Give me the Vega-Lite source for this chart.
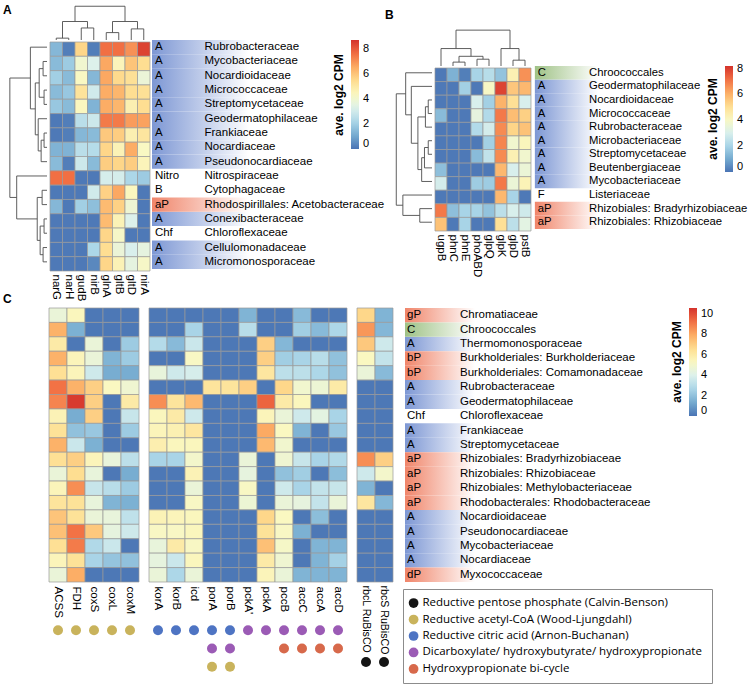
{
"$schema": "https://vega.github.io/schema/vega-lite/v6.json",
"background": "white",
"padding": {"left": 3, "top": 3, "right": 0, "bottom": 0},
"config": {
  "view": {"stroke": null},
  "font": "Liberation Sans",
  "title": {"anchor": "start", "fontSize": 12, "fontWeight": "bold", "color": "black", "offset": 2, "font": "Liberation Sans"},
  "axis": {"labelFont": "Liberation Sans", "labelColor": "black"},
  "text": {"font": "Liberation Sans", "color": "black"}
},
"datasets": {
  "hA": [
    {"g":"narG","f":"Rubrobacteraceae","v":1.4},{"g":"narH","f":"Rubrobacteraceae","v":0.2},{"g":"gudB","f":"Rubrobacteraceae","v":5.6},{"g":"nirB","f":"Rubrobacteraceae","v":0.2},{"g":"glnA","f":"Rubrobacteraceae","v":7.6},{"g":"gltB","f":"Rubrobacteraceae","v":7.6},{"g":"gltD","f":"Rubrobacteraceae","v":7.0},{"g":"nirA","f":"Rubrobacteraceae","v":8.4},
    {"g":"narG","f":"Mycobacteriaceae","v":1.5},{"g":"narH","f":"Mycobacteriaceae","v":1.9},{"g":"gudB","f":"Mycobacteriaceae","v":4.0},{"g":"nirB","f":"Mycobacteriaceae","v":3.3},{"g":"glnA","f":"Mycobacteriaceae","v":6.6},{"g":"gltB","f":"Mycobacteriaceae","v":4.5},{"g":"gltD","f":"Mycobacteriaceae","v":6.0},{"g":"nirA","f":"Mycobacteriaceae","v":5.4},
    {"g":"narG","f":"Nocardioidaceae","v":2.0},{"g":"narH","f":"Nocardioidaceae","v":1.5},{"g":"gudB","f":"Nocardioidaceae","v":4.3},{"g":"nirB","f":"Nocardioidaceae","v":1.4},{"g":"glnA","f":"Nocardioidaceae","v":6.6},{"g":"gltB","f":"Nocardioidaceae","v":5.5},{"g":"gltD","f":"Nocardioidaceae","v":5.3},{"g":"nirA","f":"Nocardioidaceae","v":3.8},
    {"g":"narG","f":"Micrococcaceae","v":1.5},{"g":"narH","f":"Micrococcaceae","v":1.8},{"g":"gudB","f":"Micrococcaceae","v":5.2},{"g":"nirB","f":"Micrococcaceae","v":3.0},{"g":"glnA","f":"Micrococcaceae","v":6.5},{"g":"gltB","f":"Micrococcaceae","v":6.3},{"g":"gltD","f":"Micrococcaceae","v":5.4},{"g":"nirA","f":"Micrococcaceae","v":5.3},
    {"g":"narG","f":"Streptomycetaceae","v":1.8},{"g":"narH","f":"Streptomycetaceae","v":1.5},{"g":"gudB","f":"Streptomycetaceae","v":4.4},{"g":"nirB","f":"Streptomycetaceae","v":1.3},{"g":"glnA","f":"Streptomycetaceae","v":6.5},{"g":"gltB","f":"Streptomycetaceae","v":6.3},{"g":"gltD","f":"Streptomycetaceae","v":4.7},{"g":"nirA","f":"Streptomycetaceae","v":5.4},
    {"g":"narG","f":"Geodermatophilaceae","v":0.1},{"g":"narH","f":"Geodermatophilaceae","v":0.2},{"g":"gudB","f":"Geodermatophilaceae","v":2.5},{"g":"nirB","f":"Geodermatophilaceae","v":2.9},{"g":"glnA","f":"Geodermatophilaceae","v":7.4},{"g":"gltB","f":"Geodermatophilaceae","v":7.4},{"g":"gltD","f":"Geodermatophilaceae","v":6.8},{"g":"nirA","f":"Geodermatophilaceae","v":6.7},
    {"g":"narG","f":"Frankiaceae","v":0.1},{"g":"narH","f":"Frankiaceae","v":0.2},{"g":"gudB","f":"Frankiaceae","v":1.4},{"g":"nirB","f":"Frankiaceae","v":1.5},{"g":"glnA","f":"Frankiaceae","v":5.9},{"g":"gltB","f":"Frankiaceae","v":5.8},{"g":"gltD","f":"Frankiaceae","v":4.7},{"g":"nirA","f":"Frankiaceae","v":5.1},
    {"g":"narG","f":"Nocardiaceae","v":1.3},{"g":"narH","f":"Nocardiaceae","v":1.3},{"g":"gudB","f":"Nocardiaceae","v":2.5},{"g":"nirB","f":"Nocardiaceae","v":2.4},{"g":"glnA","f":"Nocardiaceae","v":5.6},{"g":"gltB","f":"Nocardiaceae","v":4.6},{"g":"gltD","f":"Nocardiaceae","v":6.5},{"g":"nirA","f":"Nocardiaceae","v":4.3},
    {"g":"narG","f":"Pseudonocardiaceae","v":1.5},{"g":"narH","f":"Pseudonocardiaceae","v":0.2},{"g":"gudB","f":"Pseudonocardiaceae","v":2.9},{"g":"nirB","f":"Pseudonocardiaceae","v":1.5},{"g":"glnA","f":"Pseudonocardiaceae","v":5.8},{"g":"gltB","f":"Pseudonocardiaceae","v":5.6},{"g":"gltD","f":"Pseudonocardiaceae","v":5.8},{"g":"nirA","f":"Pseudonocardiaceae","v":4.5},
    {"g":"narG","f":"Nitrospiraceae","v":7.6},{"g":"narH","f":"Nitrospiraceae","v":7.6},{"g":"gudB","f":"Nitrospiraceae","v":0.1},{"g":"nirB","f":"Nitrospiraceae","v":0.1},{"g":"glnA","f":"Nitrospiraceae","v":3.1},{"g":"gltB","f":"Nitrospiraceae","v":3.1},{"g":"gltD","f":"Nitrospiraceae","v":2.2},{"g":"nirA","f":"Nitrospiraceae","v":1.9},
    {"g":"narG","f":"Cytophagaceae","v":0.1},{"g":"narH","f":"Cytophagaceae","v":0.1},{"g":"gudB","f":"Cytophagaceae","v":0.1},{"g":"nirB","f":"Cytophagaceae","v":3.0},{"g":"glnA","f":"Cytophagaceae","v":5.7},{"g":"gltB","f":"Cytophagaceae","v":6.6},{"g":"gltD","f":"Cytophagaceae","v":4.4},{"g":"nirA","f":"Cytophagaceae","v":0.1},
    {"g":"narG","f":"Rhodospirillales: Acetobacteraceae","v":1.4},{"g":"narH","f":"Rhodospirillales: Acetobacteraceae","v":0.1},{"g":"gudB","f":"Rhodospirillales: Acetobacteraceae","v":2.0},{"g":"nirB","f":"Rhodospirillales: Acetobacteraceae","v":1.6},{"g":"glnA","f":"Rhodospirillales: Acetobacteraceae","v":6.2},{"g":"gltB","f":"Rhodospirillales: Acetobacteraceae","v":5.7},{"g":"gltD","f":"Rhodospirillales: Acetobacteraceae","v":3.9},{"g":"nirA","f":"Rhodospirillales: Acetobacteraceae","v":0.1},
    {"g":"narG","f":"Conexibacteraceae","v":0.1},{"g":"narH","f":"Conexibacteraceae","v":0.1},{"g":"gudB","f":"Conexibacteraceae","v":0.1},{"g":"nirB","f":"Conexibacteraceae","v":0.1},{"g":"glnA","f":"Conexibacteraceae","v":6.2},{"g":"gltB","f":"Conexibacteraceae","v":4.6},{"g":"gltD","f":"Conexibacteraceae","v":3.3},{"g":"nirA","f":"Conexibacteraceae","v":0.1},
    {"g":"narG","f":"Chloroflexaceae","v":0.1},{"g":"narH","f":"Chloroflexaceae","v":0.1},{"g":"gudB","f":"Chloroflexaceae","v":0.1},{"g":"nirB","f":"Chloroflexaceae","v":0.1},{"g":"glnA","f":"Chloroflexaceae","v":5.6},{"g":"gltB","f":"Chloroflexaceae","v":4.2},{"g":"gltD","f":"Chloroflexaceae","v":0.1},{"g":"nirA","f":"Chloroflexaceae","v":0.1},
    {"g":"narG","f":"Cellulomonadaceae","v":0.1},{"g":"narH","f":"Cellulomonadaceae","v":0.1},{"g":"gudB","f":"Cellulomonadaceae","v":0.1},{"g":"nirB","f":"Cellulomonadaceae","v":2.2},{"g":"glnA","f":"Cellulomonadaceae","v":5.4},{"g":"gltB","f":"Cellulomonadaceae","v":3.8},{"g":"gltD","f":"Cellulomonadaceae","v":3.2},{"g":"nirA","f":"Cellulomonadaceae","v":3.6},
    {"g":"narG","f":"Micromonosporaceae","v":0.1},{"g":"narH","f":"Micromonosporaceae","v":0.1},{"g":"gudB","f":"Micromonosporaceae","v":0.1},{"g":"nirB","f":"Micromonosporaceae","v":0.4},{"g":"glnA","f":"Micromonosporaceae","v":5.6},{"g":"gltB","f":"Micromonosporaceae","v":4.6},{"g":"gltD","f":"Micromonosporaceae","v":3.6},{"g":"nirA","f":"Micromonosporaceae","v":4.2}
  ],
  "aA": [
    {"f":"Rubrobacteraceae","grp":"A"},{"f":"Mycobacteriaceae","grp":"A"},{"f":"Nocardioidaceae","grp":"A"},{"f":"Micrococcaceae","grp":"A"},{"f":"Streptomycetaceae","grp":"A"},{"f":"Geodermatophilaceae","grp":"A"},{"f":"Frankiaceae","grp":"A"},{"f":"Nocardiaceae","grp":"A"},{"f":"Pseudonocardiaceae","grp":"A"},{"f":"Nitrospiraceae","grp":"Nitro"},{"f":"Cytophagaceae","grp":"B"},{"f":"Rhodospirillales: Acetobacteraceae","grp":"aP"},{"f":"Conexibacteraceae","grp":"A"},{"f":"Chloroflexaceae","grp":"Chf"},{"f":"Cellulomonadaceae","grp":"A"},{"f":"Micromonosporaceae","grp":"A"}
  ],
  "hB": [
    {"g":"ugpB","f":"Chroococcales","v":0.1},{"g":"phnC","f":"Chroococcales","v":1.2},{"g":"phnE","f":"Chroococcales","v":0.2},{"g":"phoABD","f":"Chroococcales","v":2.0},{"g":"glpQ","f":"Chroococcales","v":2.3},{"g":"glpK","f":"Chroococcales","v":1.6},{"g":"glpD","f":"Chroococcales","v":4.4},{"g":"pstB","f":"Chroococcales","v":6.6},
    {"g":"ugpB","f":"Geodermatophilaceae","v":0.1},{"g":"phnC","f":"Geodermatophilaceae","v":0.1},{"g":"phnE","f":"Geodermatophilaceae","v":1.9},{"g":"phoABD","f":"Geodermatophilaceae","v":0.1},{"g":"glpQ","f":"Geodermatophilaceae","v":4.0},{"g":"glpK","f":"Geodermatophilaceae","v":7.9},{"g":"glpD","f":"Geodermatophilaceae","v":5.6},{"g":"pstB","f":"Geodermatophilaceae","v":5.9},
    {"g":"ugpB","f":"Nocardioidaceae","v":0.1},{"g":"phnC","f":"Nocardioidaceae","v":0.1},{"g":"phnE","f":"Nocardioidaceae","v":0.1},{"g":"phoABD","f":"Nocardioidaceae","v":3.0},{"g":"glpQ","f":"Nocardioidaceae","v":1.9},{"g":"glpK","f":"Nocardioidaceae","v":6.0},{"g":"glpD","f":"Nocardioidaceae","v":5.0},{"g":"pstB","f":"Nocardioidaceae","v":3.0},
    {"g":"ugpB","f":"Micrococcaceae","v":1.4},{"g":"phnC","f":"Micrococcaceae","v":0.1},{"g":"phnE","f":"Micrococcaceae","v":0.1},{"g":"phoABD","f":"Micrococcaceae","v":3.4},{"g":"glpQ","f":"Micrococcaceae","v":2.2},{"g":"glpK","f":"Micrococcaceae","v":7.0},{"g":"glpD","f":"Micrococcaceae","v":5.8},{"g":"pstB","f":"Micrococcaceae","v":5.4},
    {"g":"ugpB","f":"Rubrobacteraceae","v":0.1},{"g":"phnC","f":"Rubrobacteraceae","v":0.1},{"g":"phnE","f":"Rubrobacteraceae","v":0.1},{"g":"phoABD","f":"Rubrobacteraceae","v":2.2},{"g":"glpQ","f":"Rubrobacteraceae","v":2.9},{"g":"glpK","f":"Rubrobacteraceae","v":6.7},{"g":"glpD","f":"Rubrobacteraceae","v":5.3},{"g":"pstB","f":"Rubrobacteraceae","v":5.7},
    {"g":"ugpB","f":"Microbacteriaceae","v":0.1},{"g":"phnC","f":"Microbacteriaceae","v":0.1},{"g":"phnE","f":"Microbacteriaceae","v":0.1},{"g":"phoABD","f":"Microbacteriaceae","v":0.1},{"g":"glpQ","f":"Microbacteriaceae","v":1.9},{"g":"glpK","f":"Microbacteriaceae","v":6.8},{"g":"glpD","f":"Microbacteriaceae","v":3.8},{"g":"pstB","f":"Microbacteriaceae","v":4.2},
    {"g":"ugpB","f":"Streptomycetaceae","v":0.1},{"g":"phnC","f":"Streptomycetaceae","v":0.1},{"g":"phnE","f":"Streptomycetaceae","v":0.1},{"g":"phoABD","f":"Streptomycetaceae","v":1.4},{"g":"glpQ","f":"Streptomycetaceae","v":2.5},{"g":"glpK","f":"Streptomycetaceae","v":6.7},{"g":"glpD","f":"Streptomycetaceae","v":4.4},{"g":"pstB","f":"Streptomycetaceae","v":3.8},
    {"g":"ugpB","f":"Beutenbergiaceae","v":1.5},{"g":"phnC","f":"Beutenbergiaceae","v":0.1},{"g":"phnE","f":"Beutenbergiaceae","v":0.1},{"g":"phoABD","f":"Beutenbergiaceae","v":0.1},{"g":"glpQ","f":"Beutenbergiaceae","v":0.1},{"g":"glpK","f":"Beutenbergiaceae","v":5.9},{"g":"glpD","f":"Beutenbergiaceae","v":3.0},{"g":"pstB","f":"Beutenbergiaceae","v":3.6},
    {"g":"ugpB","f":"Mycobacteriaceae","v":2.9},{"g":"phnC","f":"Mycobacteriaceae","v":0.1},{"g":"phnE","f":"Mycobacteriaceae","v":0.1},{"g":"phoABD","f":"Mycobacteriaceae","v":1.8},{"g":"glpQ","f":"Mycobacteriaceae","v":1.8},{"g":"glpK","f":"Mycobacteriaceae","v":7.0},{"g":"glpD","f":"Mycobacteriaceae","v":3.6},{"g":"pstB","f":"Mycobacteriaceae","v":4.3},
    {"g":"ugpB","f":"Listeriaceae","v":0.1},{"g":"phnC","f":"Listeriaceae","v":0.1},{"g":"phnE","f":"Listeriaceae","v":0.1},{"g":"phoABD","f":"Listeriaceae","v":0.1},{"g":"glpQ","f":"Listeriaceae","v":0.1},{"g":"glpK","f":"Listeriaceae","v":5.9},{"g":"glpD","f":"Listeriaceae","v":2.0},{"g":"pstB","f":"Listeriaceae","v":0.1},
    {"g":"ugpB","f":"Rhizobiales: Bradyrhizobiaceae","v":7.0},{"g":"phnC","f":"Rhizobiales: Bradyrhizobiaceae","v":1.5},{"g":"phnE","f":"Rhizobiales: Bradyrhizobiaceae","v":2.0},{"g":"phoABD","f":"Rhizobiales: Bradyrhizobiaceae","v":2.0},{"g":"glpQ","f":"Rhizobiales: Bradyrhizobiaceae","v":1.6},{"g":"glpK","f":"Rhizobiales: Bradyrhizobiaceae","v":2.4},{"g":"glpD","f":"Rhizobiales: Bradyrhizobiaceae","v":3.0},{"g":"pstB","f":"Rhizobiales: Bradyrhizobiaceae","v":2.8},
    {"g":"ugpB","f":"Rhizobiales: Rhizobiaceae","v":5.7},{"g":"phnC","f":"Rhizobiales: Rhizobiaceae","v":0.1},{"g":"phnE","f":"Rhizobiales: Rhizobiaceae","v":2.0},{"g":"phoABD","f":"Rhizobiales: Rhizobiaceae","v":0.1},{"g":"glpQ","f":"Rhizobiales: Rhizobiaceae","v":0.1},{"g":"glpK","f":"Rhizobiales: Rhizobiaceae","v":5.0},{"g":"glpD","f":"Rhizobiales: Rhizobiaceae","v":2.4},{"g":"pstB","f":"Rhizobiales: Rhizobiaceae","v":3.3}
  ],
  "aB": [
    {"f":"Chroococcales","grp":"C"},{"f":"Geodermatophilaceae","grp":"A"},{"f":"Nocardioidaceae","grp":"A"},{"f":"Micrococcaceae","grp":"A"},{"f":"Rubrobacteraceae","grp":"A"},{"f":"Microbacteriaceae","grp":"A"},{"f":"Streptomycetaceae","grp":"A"},{"f":"Beutenbergiaceae","grp":"A"},{"f":"Mycobacteriaceae","grp":"A"},{"f":"Listeriaceae","grp":"F"},{"f":"Rhizobiales: Bradyrhizobiaceae","grp":"aP"},{"f":"Rhizobiales: Rhizobiaceae","grp":"aP"}
  ],
  "hC1": [
    {"g":"ACSS","f":"Chromatiaceae","v":4.6},{"g":"FDH","f":"Chromatiaceae","v":5.4},{"g":"coxS","f":"Chromatiaceae","v":0.1},{"g":"coxL","f":"Chromatiaceae","v":0.1},{"g":"coxM","f":"Chromatiaceae","v":0.1},
    {"g":"ACSS","f":"Chroococcales","v":7.8},{"g":"FDH","f":"Chroococcales","v":1.5},{"g":"coxS","f":"Chroococcales","v":0.1},{"g":"coxL","f":"Chroococcales","v":0.1},{"g":"coxM","f":"Chroococcales","v":0.1},
    {"g":"ACSS","f":"Thermomonosporaceae","v":6.0},{"g":"FDH","f":"Thermomonosporaceae","v":0.1},{"g":"coxS","f":"Thermomonosporaceae","v":4.6},{"g":"coxL","f":"Thermomonosporaceae","v":0.1},{"g":"coxM","f":"Thermomonosporaceae","v":2.3},
    {"g":"ACSS","f":"Burkholderiales: Burkholderiaceae","v":7.8},{"g":"FDH","f":"Burkholderiales: Burkholderiaceae","v":5.5},{"g":"coxS","f":"Burkholderiales: Burkholderiaceae","v":4.6},{"g":"coxL","f":"Burkholderiales: Burkholderiaceae","v":1.6},{"g":"coxM","f":"Burkholderiales: Burkholderiaceae","v":2.3},
    {"g":"ACSS","f":"Burkholderiales: Comamonadaceae","v":6.5},{"g":"FDH","f":"Burkholderiales: Comamonadaceae","v":5.5},{"g":"coxS","f":"Burkholderiales: Comamonadaceae","v":3.6},{"g":"coxL","f":"Burkholderiales: Comamonadaceae","v":1.4},{"g":"coxM","f":"Burkholderiales: Comamonadaceae","v":1.4},
    {"g":"ACSS","f":"Rubrobacteraceae","v":9.2},{"g":"FDH","f":"Rubrobacteraceae","v":7.8},{"g":"coxS","f":"Rubrobacteraceae","v":7.0},{"g":"coxL","f":"Rubrobacteraceae","v":5.3},{"g":"coxM","f":"Rubrobacteraceae","v":4.8},
    {"g":"ACSS","f":"Geodermatophilaceae","v":8.8},{"g":"FDH","f":"Geodermatophilaceae","v":10.4},{"g":"coxS","f":"Geodermatophilaceae","v":7.0},{"g":"coxL","f":"Geodermatophilaceae","v":0.1},{"g":"coxM","f":"Geodermatophilaceae","v":6.0},
    {"g":"ACSS","f":"Chloroflexaceae","v":5.6},{"g":"FDH","f":"Chloroflexaceae","v":1.4},{"g":"coxS","f":"Chloroflexaceae","v":7.0},{"g":"coxL","f":"Chloroflexaceae","v":0.1},{"g":"coxM","f":"Chloroflexaceae","v":3.4},
    {"g":"ACSS","f":"Frankiaceae","v":6.4},{"g":"FDH","f":"Frankiaceae","v":2.0},{"g":"coxS","f":"Frankiaceae","v":2.2},{"g":"coxL","f":"Frankiaceae","v":0.1},{"g":"coxM","f":"Frankiaceae","v":2.3},
    {"g":"ACSS","f":"Streptomycetaceae","v":7.8},{"g":"FDH","f":"Streptomycetaceae","v":3.5},{"g":"coxS","f":"Streptomycetaceae","v":1.5},{"g":"coxL","f":"Streptomycetaceae","v":0.1},{"g":"coxM","f":"Streptomycetaceae","v":0.1},
    {"g":"ACSS","f":"Rhizobiales: Bradyrhizobiaceae","v":6.5},{"g":"FDH","f":"Rhizobiales: Bradyrhizobiaceae","v":7.0},{"g":"coxS","f":"Rhizobiales: Bradyrhizobiaceae","v":5.5},{"g":"coxL","f":"Rhizobiales: Bradyrhizobiaceae","v":4.5},{"g":"coxM","f":"Rhizobiales: Bradyrhizobiaceae","v":3.1},
    {"g":"ACSS","f":"Rhizobiales: Rhizobiaceae","v":4.6},{"g":"FDH","f":"Rhizobiales: Rhizobiaceae","v":6.6},{"g":"coxS","f":"Rhizobiales: Rhizobiaceae","v":4.5},{"g":"coxL","f":"Rhizobiales: Rhizobiaceae","v":0.1},{"g":"coxM","f":"Rhizobiales: Rhizobiaceae","v":1.4},
    {"g":"ACSS","f":"Rhizobiales: Methylobacteriaceae","v":5.5},{"g":"FDH","f":"Rhizobiales: Methylobacteriaceae","v":8.6},{"g":"coxS","f":"Rhizobiales: Methylobacteriaceae","v":3.4},{"g":"coxL","f":"Rhizobiales: Methylobacteriaceae","v":3.0},{"g":"coxM","f":"Rhizobiales: Methylobacteriaceae","v":2.3},
    {"g":"ACSS","f":"Rhodobacterales: Rhodobacteraceae","v":6.3},{"g":"FDH","f":"Rhodobacterales: Rhodobacteraceae","v":6.4},{"g":"coxS","f":"Rhodobacterales: Rhodobacteraceae","v":4.5},{"g":"coxL","f":"Rhodobacterales: Rhodobacteraceae","v":1.6},{"g":"coxM","f":"Rhodobacterales: Rhodobacteraceae","v":1.5},
    {"g":"ACSS","f":"Nocardioidaceae","v":7.3},{"g":"FDH","f":"Nocardioidaceae","v":6.4},{"g":"coxS","f":"Nocardioidaceae","v":4.6},{"g":"coxL","f":"Nocardioidaceae","v":4.5},{"g":"coxM","f":"Nocardioidaceae","v":3.2},
    {"g":"ACSS","f":"Pseudonocardiaceae","v":7.4},{"g":"FDH","f":"Pseudonocardiaceae","v":9.2},{"g":"coxS","f":"Pseudonocardiaceae","v":7.2},{"g":"coxL","f":"Pseudonocardiaceae","v":4.4},{"g":"coxM","f":"Pseudonocardiaceae","v":3.6},
    {"g":"ACSS","f":"Mycobacteriaceae","v":6.5},{"g":"FDH","f":"Mycobacteriaceae","v":9.0},{"g":"coxS","f":"Mycobacteriaceae","v":2.8},{"g":"coxL","f":"Mycobacteriaceae","v":3.5},{"g":"coxM","f":"Mycobacteriaceae","v":0.1},
    {"g":"ACSS","f":"Nocardiaceae","v":5.5},{"g":"FDH","f":"Nocardiaceae","v":6.4},{"g":"coxS","f":"Nocardiaceae","v":2.6},{"g":"coxL","f":"Nocardiaceae","v":2.1},{"g":"coxM","f":"Nocardiaceae","v":2.0},
    {"g":"ACSS","f":"Myxococcaceae","v":4.6},{"g":"FDH","f":"Myxococcaceae","v":7.9},{"g":"coxS","f":"Myxococcaceae","v":0.1},{"g":"coxL","f":"Myxococcaceae","v":0.1},{"g":"coxM","f":"Myxococcaceae","v":0.1}
  ],
  "hC2": [
    {"g":"korA","f":"Chromatiaceae","v":0.1},{"g":"korB","f":"Chromatiaceae","v":0.1},{"g":"icd","f":"Chromatiaceae","v":0.1},{"g":"porA","f":"Chromatiaceae","v":0.1},{"g":"porB","f":"Chromatiaceae","v":0.1},{"g":"pckA'","f":"Chromatiaceae","v":1.6},{"g":"pckA","f":"Chromatiaceae","v":0.1},{"g":"pccB","f":"Chromatiaceae","v":0.1},{"g":"accC","f":"Chromatiaceae","v":1.8},{"g":"accA","f":"Chromatiaceae","v":0.1},{"g":"accD","f":"Chromatiaceae","v":0.1},
    {"g":"korA","f":"Chroococcales","v":0.1},{"g":"korB","f":"Chroococcales","v":0.1},{"g":"icd","f":"Chroococcales","v":2.6},{"g":"porA","f":"Chroococcales","v":0.1},{"g":"porB","f":"Chroococcales","v":0.1},{"g":"pckA'","f":"Chroococcales","v":3.0},{"g":"pckA","f":"Chroococcales","v":0.1},{"g":"pccB","f":"Chroococcales","v":0.1},{"g":"accC","f":"Chroococcales","v":2.4},{"g":"accA","f":"Chroococcales","v":1.8},{"g":"accD","f":"Chroococcales","v":2.7},
    {"g":"korA","f":"Thermomonosporaceae","v":2.9},{"g":"korB","f":"Thermomonosporaceae","v":1.8},{"g":"icd","f":"Thermomonosporaceae","v":3.5},{"g":"porA","f":"Thermomonosporaceae","v":0.1},{"g":"porB","f":"Thermomonosporaceae","v":0.1},{"g":"pckA'","f":"Thermomonosporaceae","v":0.1},{"g":"pckA","f":"Thermomonosporaceae","v":7.0},{"g":"pccB","f":"Thermomonosporaceae","v":1.7},{"g":"accC","f":"Thermomonosporaceae","v":0.1},{"g":"accA","f":"Thermomonosporaceae","v":0.1},{"g":"accD","f":"Thermomonosporaceae","v":0.1},
    {"g":"korA","f":"Burkholderiales: Burkholderiaceae","v":0.1},{"g":"korB","f":"Burkholderiales: Burkholderiaceae","v":0.1},{"g":"icd","f":"Burkholderiales: Burkholderiaceae","v":5.2},{"g":"porA","f":"Burkholderiales: Burkholderiaceae","v":0.1},{"g":"porB","f":"Burkholderiales: Burkholderiaceae","v":0.1},{"g":"pckA'","f":"Burkholderiales: Burkholderiaceae","v":0.1},{"g":"pckA","f":"Burkholderiales: Burkholderiaceae","v":7.0},{"g":"pccB","f":"Burkholderiales: Burkholderiaceae","v":2.4},{"g":"accC","f":"Burkholderiales: Burkholderiaceae","v":2.6},{"g":"accA","f":"Burkholderiales: Burkholderiaceae","v":3.0},{"g":"accD","f":"Burkholderiales: Burkholderiaceae","v":2.0},
    {"g":"korA","f":"Burkholderiales: Comamonadaceae","v":4.5},{"g":"korB","f":"Burkholderiales: Comamonadaceae","v":3.6},{"g":"icd","f":"Burkholderiales: Comamonadaceae","v":3.8},{"g":"porA","f":"Burkholderiales: Comamonadaceae","v":0.1},{"g":"porB","f":"Burkholderiales: Comamonadaceae","v":0.1},{"g":"pckA'","f":"Burkholderiales: Comamonadaceae","v":0.1},{"g":"pckA","f":"Burkholderiales: Comamonadaceae","v":6.2},{"g":"pccB","f":"Burkholderiales: Comamonadaceae","v":3.1},{"g":"accC","f":"Burkholderiales: Comamonadaceae","v":3.1},{"g":"accA","f":"Burkholderiales: Comamonadaceae","v":2.7},{"g":"accD","f":"Burkholderiales: Comamonadaceae","v":2.0},
    {"g":"korA","f":"Rubrobacteraceae","v":0.1},{"g":"korB","f":"Rubrobacteraceae","v":0.1},{"g":"icd","f":"Rubrobacteraceae","v":0.1},{"g":"porA","f":"Rubrobacteraceae","v":6.3},{"g":"porB","f":"Rubrobacteraceae","v":6.3},{"g":"pckA'","f":"Rubrobacteraceae","v":7.0},{"g":"pckA","f":"Rubrobacteraceae","v":0.1},{"g":"pccB","f":"Rubrobacteraceae","v":6.8},{"g":"accC","f":"Rubrobacteraceae","v":4.9},{"g":"accA","f":"Rubrobacteraceae","v":4.7},{"g":"accD","f":"Rubrobacteraceae","v":6.0},
    {"g":"korA","f":"Geodermatophilaceae","v":8.6},{"g":"korB","f":"Geodermatophilaceae","v":6.3},{"g":"icd","f":"Geodermatophilaceae","v":7.6},{"g":"porA","f":"Geodermatophilaceae","v":0.1},{"g":"porB","f":"Geodermatophilaceae","v":0.1},{"g":"pckA'","f":"Geodermatophilaceae","v":0.1},{"g":"pckA","f":"Geodermatophilaceae","v":9.5},{"g":"pccB","f":"Geodermatophilaceae","v":6.0},{"g":"accC","f":"Geodermatophilaceae","v":5.4},{"g":"accA","f":"Geodermatophilaceae","v":0.1},{"g":"accD","f":"Geodermatophilaceae","v":0.1},
    {"g":"korA","f":"Chloroflexaceae","v":5.4},{"g":"korB","f":"Chloroflexaceae","v":6.0},{"g":"icd","f":"Chloroflexaceae","v":3.6},{"g":"porA","f":"Chloroflexaceae","v":0.1},{"g":"porB","f":"Chloroflexaceae","v":0.1},{"g":"pckA'","f":"Chloroflexaceae","v":0.1},{"g":"pckA","f":"Chloroflexaceae","v":5.5},{"g":"pccB","f":"Chloroflexaceae","v":4.6},{"g":"accC","f":"Chloroflexaceae","v":3.6},{"g":"accA","f":"Chloroflexaceae","v":4.3},{"g":"accD","f":"Chloroflexaceae","v":2.6},
    {"g":"korA","f":"Frankiaceae","v":5.5},{"g":"korB","f":"Frankiaceae","v":5.7},{"g":"icd","f":"Frankiaceae","v":6.2},{"g":"porA","f":"Frankiaceae","v":0.1},{"g":"porB","f":"Frankiaceae","v":0.1},{"g":"pckA'","f":"Frankiaceae","v":0.1},{"g":"pckA","f":"Frankiaceae","v":8.0},{"g":"pccB","f":"Frankiaceae","v":5.3},{"g":"accC","f":"Frankiaceae","v":1.6},{"g":"accA","f":"Frankiaceae","v":0.1},{"g":"accD","f":"Frankiaceae","v":2.2},
    {"g":"korA","f":"Streptomycetaceae","v":5.8},{"g":"korB","f":"Streptomycetaceae","v":5.4},{"g":"icd","f":"Streptomycetaceae","v":5.4},{"g":"porA","f":"Streptomycetaceae","v":0.1},{"g":"porB","f":"Streptomycetaceae","v":0.1},{"g":"pckA'","f":"Streptomycetaceae","v":0.1},{"g":"pckA","f":"Streptomycetaceae","v":7.6},{"g":"pccB","f":"Streptomycetaceae","v":4.9},{"g":"accC","f":"Streptomycetaceae","v":0.1},{"g":"accA","f":"Streptomycetaceae","v":0.1},{"g":"accD","f":"Streptomycetaceae","v":0.1},
    {"g":"korA","f":"Rhizobiales: Bradyrhizobiaceae","v":2.6},{"g":"korB","f":"Rhizobiales: Bradyrhizobiaceae","v":2.6},{"g":"icd","f":"Rhizobiales: Bradyrhizobiaceae","v":5.0},{"g":"porA","f":"Rhizobiales: Bradyrhizobiaceae","v":0.1},{"g":"porB","f":"Rhizobiales: Bradyrhizobiaceae","v":0.1},{"g":"pckA'","f":"Rhizobiales: Bradyrhizobiaceae","v":4.6},{"g":"pckA","f":"Rhizobiales: Bradyrhizobiaceae","v":0.1},{"g":"pccB","f":"Rhizobiales: Bradyrhizobiaceae","v":4.8},{"g":"accC","f":"Rhizobiales: Bradyrhizobiaceae","v":3.4},{"g":"accA","f":"Rhizobiales: Bradyrhizobiaceae","v":2.6},{"g":"accD","f":"Rhizobiales: Bradyrhizobiaceae","v":2.8},
    {"g":"korA","f":"Rhizobiales: Rhizobiaceae","v":0.1},{"g":"korB","f":"Rhizobiales: Rhizobiaceae","v":0.1},{"g":"icd","f":"Rhizobiales: Rhizobiaceae","v":5.6},{"g":"porA","f":"Rhizobiales: Rhizobiaceae","v":0.1},{"g":"porB","f":"Rhizobiales: Rhizobiaceae","v":0.1},{"g":"pckA'","f":"Rhizobiales: Rhizobiaceae","v":4.4},{"g":"pckA","f":"Rhizobiales: Rhizobiaceae","v":0.1},{"g":"pccB","f":"Rhizobiales: Rhizobiaceae","v":2.0},{"g":"accC","f":"Rhizobiales: Rhizobiaceae","v":2.4},{"g":"accA","f":"Rhizobiales: Rhizobiaceae","v":0.1},{"g":"accD","f":"Rhizobiales: Rhizobiaceae","v":1.9},
    {"g":"korA","f":"Rhizobiales: Methylobacteriaceae","v":0.1},{"g":"korB","f":"Rhizobiales: Methylobacteriaceae","v":0.1},{"g":"icd","f":"Rhizobiales: Methylobacteriaceae","v":4.6},{"g":"porA","f":"Rhizobiales: Methylobacteriaceae","v":0.1},{"g":"porB","f":"Rhizobiales: Methylobacteriaceae","v":0.1},{"g":"pckA'","f":"Rhizobiales: Methylobacteriaceae","v":5.2},{"g":"pckA","f":"Rhizobiales: Methylobacteriaceae","v":0.1},{"g":"pccB","f":"Rhizobiales: Methylobacteriaceae","v":3.6},{"g":"accC","f":"Rhizobiales: Methylobacteriaceae","v":2.6},{"g":"accA","f":"Rhizobiales: Methylobacteriaceae","v":3.3},{"g":"accD","f":"Rhizobiales: Methylobacteriaceae","v":3.4},
    {"g":"korA","f":"Rhodobacterales: Rhodobacteraceae","v":0.1},{"g":"korB","f":"Rhodobacterales: Rhodobacteraceae","v":0.1},{"g":"icd","f":"Rhodobacterales: Rhodobacteraceae","v":5.2},{"g":"porA","f":"Rhodobacterales: Rhodobacteraceae","v":0.1},{"g":"porB","f":"Rhodobacterales: Rhodobacteraceae","v":0.1},{"g":"pckA'","f":"Rhodobacterales: Rhodobacteraceae","v":4.7},{"g":"pckA","f":"Rhodobacterales: Rhodobacteraceae","v":0.1},{"g":"pccB","f":"Rhodobacterales: Rhodobacteraceae","v":4.6},{"g":"accC","f":"Rhodobacterales: Rhodobacteraceae","v":4.4},{"g":"accA","f":"Rhodobacterales: Rhodobacteraceae","v":3.3},{"g":"accD","f":"Rhodobacterales: Rhodobacteraceae","v":4.6},
    {"g":"korA","f":"Nocardioidaceae","v":5.6},{"g":"korB","f":"Nocardioidaceae","v":5.5},{"g":"icd","f":"Nocardioidaceae","v":5.4},{"g":"porA","f":"Nocardioidaceae","v":0.1},{"g":"porB","f":"Nocardioidaceae","v":0.1},{"g":"pckA'","f":"Nocardioidaceae","v":0.1},{"g":"pckA","f":"Nocardioidaceae","v":6.8},{"g":"pccB","f":"Nocardioidaceae","v":5.3},{"g":"accC","f":"Nocardioidaceae","v":0.1},{"g":"accA","f":"Nocardioidaceae","v":1.9},{"g":"accD","f":"Nocardioidaceae","v":0.1},
    {"g":"korA","f":"Pseudonocardiaceae","v":5.2},{"g":"korB","f":"Pseudonocardiaceae","v":5.2},{"g":"icd","f":"Pseudonocardiaceae","v":5.4},{"g":"porA","f":"Pseudonocardiaceae","v":0.1},{"g":"porB","f":"Pseudonocardiaceae","v":0.1},{"g":"pckA'","f":"Pseudonocardiaceae","v":0.1},{"g":"pckA","f":"Pseudonocardiaceae","v":6.4},{"g":"pccB","f":"Pseudonocardiaceae","v":5.2},{"g":"accC","f":"Pseudonocardiaceae","v":1.5},{"g":"accA","f":"Pseudonocardiaceae","v":0.1},{"g":"accD","f":"Pseudonocardiaceae","v":0.1},
    {"g":"korA","f":"Mycobacteriaceae","v":4.5},{"g":"korB","f":"Mycobacteriaceae","v":6.0},{"g":"icd","f":"Mycobacteriaceae","v":5.2},{"g":"porA","f":"Mycobacteriaceae","v":0.1},{"g":"porB","f":"Mycobacteriaceae","v":0.1},{"g":"pckA'","f":"Mycobacteriaceae","v":0.1},{"g":"pckA","f":"Mycobacteriaceae","v":7.4},{"g":"pccB","f":"Mycobacteriaceae","v":5.1},{"g":"accC","f":"Mycobacteriaceae","v":0.1},{"g":"accA","f":"Mycobacteriaceae","v":1.6},{"g":"accD","f":"Mycobacteriaceae","v":1.6},
    {"g":"korA","f":"Nocardiaceae","v":4.4},{"g":"korB","f":"Nocardiaceae","v":3.5},{"g":"icd","f":"Nocardiaceae","v":5.4},{"g":"porA","f":"Nocardiaceae","v":0.1},{"g":"porB","f":"Nocardiaceae","v":0.1},{"g":"pckA'","f":"Nocardiaceae","v":0.1},{"g":"pckA","f":"Nocardiaceae","v":6.0},{"g":"pccB","f":"Nocardiaceae","v":4.8},{"g":"accC","f":"Nocardiaceae","v":0.1},{"g":"accA","f":"Nocardiaceae","v":1.6},{"g":"accD","f":"Nocardiaceae","v":2.5},
    {"g":"korA","f":"Myxococcaceae","v":4.6},{"g":"korB","f":"Myxococcaceae","v":2.7},{"g":"icd","f":"Myxococcaceae","v":4.6},{"g":"porA","f":"Myxococcaceae","v":0.1},{"g":"porB","f":"Myxococcaceae","v":0.1},{"g":"pckA'","f":"Myxococcaceae","v":0.1},{"g":"pckA","f":"Myxococcaceae","v":5.5},{"g":"pccB","f":"Myxococcaceae","v":4.6},{"g":"accC","f":"Myxococcaceae","v":1.6},{"g":"accA","f":"Myxococcaceae","v":1.6},{"g":"accD","f":"Myxococcaceae","v":1.6}
  ],
  "hC3": [
    {"g":"rbcL RuBisCO","f":"Chromatiaceae","v":6.8},{"g":"rbcS RuBisCO","f":"Chromatiaceae","v":1.6},
    {"g":"rbcL RuBisCO","f":"Chroococcales","v":8.4},{"g":"rbcS RuBisCO","f":"Chroococcales","v":1.7},
    {"g":"rbcL RuBisCO","f":"Thermomonosporaceae","v":7.2},{"g":"rbcS RuBisCO","f":"Thermomonosporaceae","v":3.6},
    {"g":"rbcL RuBisCO","f":"Burkholderiales: Burkholderiaceae","v":5.3},{"g":"rbcS RuBisCO","f":"Burkholderiales: Burkholderiaceae","v":3.3},
    {"g":"rbcL RuBisCO","f":"Burkholderiales: Comamonadaceae","v":4.6},{"g":"rbcS RuBisCO","f":"Burkholderiales: Comamonadaceae","v":1.8},
    {"g":"rbcL RuBisCO","f":"Rubrobacteraceae","v":0.1},{"g":"rbcS RuBisCO","f":"Rubrobacteraceae","v":0.1},
    {"g":"rbcL RuBisCO","f":"Geodermatophilaceae","v":0.1},{"g":"rbcS RuBisCO","f":"Geodermatophilaceae","v":0.1},
    {"g":"rbcL RuBisCO","f":"Chloroflexaceae","v":0.1},{"g":"rbcS RuBisCO","f":"Chloroflexaceae","v":0.1},
    {"g":"rbcL RuBisCO","f":"Frankiaceae","v":0.1},{"g":"rbcS RuBisCO","f":"Frankiaceae","v":0.1},
    {"g":"rbcL RuBisCO","f":"Streptomycetaceae","v":0.1},{"g":"rbcS RuBisCO","f":"Streptomycetaceae","v":0.1},
    {"g":"rbcL RuBisCO","f":"Rhizobiales: Bradyrhizobiaceae","v":8.6},{"g":"rbcS RuBisCO","f":"Rhizobiales: Bradyrhizobiaceae","v":7.0},
    {"g":"rbcL RuBisCO","f":"Rhizobiales: Rhizobiaceae","v":3.6},{"g":"rbcS RuBisCO","f":"Rhizobiales: Rhizobiaceae","v":5.0},
    {"g":"rbcL RuBisCO","f":"Rhizobiales: Methylobacteriaceae","v":1.6},{"g":"rbcS RuBisCO","f":"Rhizobiales: Methylobacteriaceae","v":0.1},
    {"g":"rbcL RuBisCO","f":"Rhodobacterales: Rhodobacteraceae","v":6.2},{"g":"rbcS RuBisCO","f":"Rhodobacterales: Rhodobacteraceae","v":1.7},
    {"g":"rbcL RuBisCO","f":"Nocardioidaceae","v":0.1},{"g":"rbcS RuBisCO","f":"Nocardioidaceae","v":0.1},
    {"g":"rbcL RuBisCO","f":"Pseudonocardiaceae","v":0.1},{"g":"rbcS RuBisCO","f":"Pseudonocardiaceae","v":0.1},
    {"g":"rbcL RuBisCO","f":"Mycobacteriaceae","v":0.1},{"g":"rbcS RuBisCO","f":"Mycobacteriaceae","v":0.1},
    {"g":"rbcL RuBisCO","f":"Nocardiaceae","v":0.1},{"g":"rbcS RuBisCO","f":"Nocardiaceae","v":0.1},
    {"g":"rbcL RuBisCO","f":"Myxococcaceae","v":0.1},{"g":"rbcS RuBisCO","f":"Myxococcaceae","v":0.1}
  ],
  "aC": [
    {"f":"Chromatiaceae","grp":"gP"},{"f":"Chroococcales","grp":"C"},{"f":"Thermomonosporaceae","grp":"A"},{"f":"Burkholderiales: Burkholderiaceae","grp":"bP"},{"f":"Burkholderiales: Comamonadaceae","grp":"bP"},{"f":"Rubrobacteraceae","grp":"A"},{"f":"Geodermatophilaceae","grp":"A"},{"f":"Chloroflexaceae","grp":"Chf"},{"f":"Frankiaceae","grp":"A"},{"f":"Streptomycetaceae","grp":"A"},{"f":"Rhizobiales: Bradyrhizobiaceae","grp":"aP"},{"f":"Rhizobiales: Rhizobiaceae","grp":"aP"},{"f":"Rhizobiales: Methylobacteriaceae","grp":"aP"},{"f":"Rhodobacterales: Rhodobacteraceae","grp":"aP"},{"f":"Nocardioidaceae","grp":"A"},{"f":"Pseudonocardiaceae","grp":"A"},{"f":"Mycobacteriaceae","grp":"A"},{"f":"Nocardiaceae","grp":"A"},{"f":"Myxococcaceae","grp":"dP"}
  ],
  "dC1": [
    {"g":"ACSS","s":1,"p":"Reductive acetyl-CoA (Wood-Ljungdahl)"},{"g":"FDH","s":1,"p":"Reductive acetyl-CoA (Wood-Ljungdahl)"},{"g":"coxS","s":1,"p":"Reductive acetyl-CoA (Wood-Ljungdahl)"},{"g":"coxL","s":1,"p":"Reductive acetyl-CoA (Wood-Ljungdahl)"},{"g":"coxM","s":1,"p":"Reductive acetyl-CoA (Wood-Ljungdahl)"}
  ],
  "dC2": [
    {"g":"korA","s":1,"p":"Reductive citric acid (Arnon-Buchanan)"},{"g":"korB","s":1,"p":"Reductive citric acid (Arnon-Buchanan)"},{"g":"icd","s":1,"p":"Reductive citric acid (Arnon-Buchanan)"},
    {"g":"porA","s":1,"p":"Reductive citric acid (Arnon-Buchanan)"},{"g":"porA","s":2,"p":"Dicarboxylate/ hydroxybutyrate/ hydroxypropionate"},{"g":"porA","s":3,"p":"Reductive acetyl-CoA (Wood-Ljungdahl)"},
    {"g":"porB","s":1,"p":"Reductive citric acid (Arnon-Buchanan)"},{"g":"porB","s":2,"p":"Dicarboxylate/ hydroxybutyrate/ hydroxypropionate"},{"g":"porB","s":3,"p":"Reductive acetyl-CoA (Wood-Ljungdahl)"},
    {"g":"pckA'","s":1,"p":"Dicarboxylate/ hydroxybutyrate/ hydroxypropionate"},{"g":"pckA","s":1,"p":"Dicarboxylate/ hydroxybutyrate/ hydroxypropionate"},
    {"g":"pccB","s":1,"p":"Dicarboxylate/ hydroxybutyrate/ hydroxypropionate"},{"g":"pccB","s":2,"p":"Hydroxypropionate bi-cycle"},
    {"g":"accC","s":1,"p":"Dicarboxylate/ hydroxybutyrate/ hydroxypropionate"},{"g":"accC","s":2,"p":"Hydroxypropionate bi-cycle"},
    {"g":"accA","s":1,"p":"Dicarboxylate/ hydroxybutyrate/ hydroxypropionate"},{"g":"accA","s":2,"p":"Hydroxypropionate bi-cycle"},
    {"g":"accD","s":1,"p":"Dicarboxylate/ hydroxybutyrate/ hydroxypropionate"},{"g":"accD","s":2,"p":"Hydroxypropionate bi-cycle"}
  ],
  "dC3": [
    {"g":"rbcL RuBisCO","s":1,"p":"Reductive pentose phosphate (Calvin-Benson)"},{"g":"rbcS RuBisCO","s":1,"p":"Reductive pentose phosphate (Calvin-Benson)"}
  ],
  "pw": [
    {"p":"Reductive pentose phosphate (Calvin-Benson)"},{"p":"Reductive acetyl-CoA (Wood-Ljungdahl)"},{"p":"Reductive citric acid (Arnon-Buchanan)"},{"p":"Dicarboxylate/ hydroxybutyrate/ hydroxypropionate"},{"p":"Hydroxypropionate bi-cycle"}
  ]
},
"spacing": -8,
"resolve": {"scale": {"color": "independent", "x": "independent", "y": "independent"}, "legend": {"color": "independent"}},
"vconcat": [
  {
    "spacing": -5,
    "resolve": {"scale": {"color": "independent", "x": "independent", "y": "independent"}, "legend": {"color": "independent"}},
    "hconcat": [
      {
        "spacing": 1,
        "resolve": {"scale": {"color": "independent", "x": "independent", "y": "independent"}, "legend": {"color": "independent"}},
        "hconcat": [
          {"spacing": 0, "resolve": {"scale": {"x": "independent", "y": "independent"}}, "vconcat": [
            {"width": 44, "height": 37, "data": {"values": [{"lab": "A"}]},
             "mark": {"type": "text", "align": "left", "baseline": "top", "fontSize": 12, "fontWeight": "bold", "color": "black"},
             "encoding": {"text": {"field": "lab"}, "x": {"datum": 0, "type": "quantitative", "scale": {"domain": [0, 44]}, "axis": null}, "y": {"datum": 2, "type": "quantitative", "scale": {"domain": [0, 37], "reverse": true}, "axis": null}}},
            {"width": 44, "height": 229,
             "data": {"values": [
               {"a":1.5,"b":2.5,"ha":0,"hb":0,"h":4},{"a":3.5,"b":4.5,"ha":0,"hb":0,"h":3},{"a":2.0,"b":4.0,"ha":4,"hb":3,"h":8},
               {"a":6.5,"b":7.5,"ha":0,"hb":0,"h":3},{"a":7.0,"b":8.5,"ha":3,"hb":0,"h":6},{"a":5.5,"b":7.75,"ha":0,"hb":6,"h":9},
               {"a":3.0,"b":6.625,"ha":8,"hb":9,"h":12},{"a":0.5,"b":4.8125,"ha":0,"hb":12,"h":17},
               {"a":10.5,"b":11.5,"ha":0,"hb":0,"h":5},{"a":12.5,"b":13.5,"ha":0,"hb":0,"h":3},{"a":14.5,"b":15.5,"ha":0,"hb":0,"h":4},
               {"a":13,"b":15,"ha":3,"hb":4,"h":7},{"a":11,"b":14,"ha":5,"hb":7,"h":10},{"a":9.5,"b":12.5,"ha":0,"hb":10,"h":31},
               {"a":2.65625,"b":11,"ha":17,"hb":31,"h":38}]},
             "layer": [
               {"mark": {"type": "rule", "color": "#4d4d4d", "strokeWidth": 0.9}, "encoding": {"x": {"field": "ha", "type": "quantitative", "scale": {"domain": [0, 44], "reverse": true}, "axis": null}, "x2": {"field": "h"}, "y": {"field": "a", "type": "quantitative", "scale": {"domain": [0, 16], "reverse": true}, "axis": null}}},
               {"mark": {"type": "rule", "color": "#4d4d4d", "strokeWidth": 0.9}, "encoding": {"x": {"field": "hb", "type": "quantitative"}, "x2": {"field": "h"}, "y": {"field": "b", "type": "quantitative"}}},
               {"mark": {"type": "rule", "color": "#4d4d4d", "strokeWidth": 0.9}, "encoding": {"x": {"field": "h", "type": "quantitative"}, "y": {"field": "a", "type": "quantitative"}, "y2": {"field": "b"}}}
             ]}
          ]},
          {"spacing": 0, "resolve": {"scale": {"x": "independent", "y": "independent"}}, "vconcat": [
            {"width": 100, "height": 37,
             "data": {"values": [
               {"a":0.5,"b":1.5,"ha":0,"hb":0,"h":2},{"a":2.5,"b":3.5,"ha":0,"hb":0,"h":13},{"a":1.0,"b":3.0,"ha":2,"hb":13,"h":20},
               {"a":4.5,"b":5.5,"ha":0,"hb":0,"h":8},{"a":6.5,"b":7.5,"ha":0,"hb":0,"h":12},{"a":5.0,"b":7.0,"ha":8,"hb":12,"h":20},
               {"a":2.0,"b":6.0,"ha":20,"hb":20,"h":36.5}]},
             "layer": [
               {"mark": {"type": "rule", "color": "#4d4d4d", "strokeWidth": 0.9}, "encoding": {"x": {"field": "a", "type": "quantitative", "scale": {"domain": [0, 8]}, "axis": null}, "y": {"field": "ha", "type": "quantitative", "scale": {"domain": [0, 37]}, "axis": null}, "y2": {"field": "h"}}},
               {"mark": {"type": "rule", "color": "#4d4d4d", "strokeWidth": 0.9}, "encoding": {"x": {"field": "b", "type": "quantitative"}, "y": {"field": "hb", "type": "quantitative"}, "y2": {"field": "h"}}},
               {"mark": {"type": "rule", "color": "#4d4d4d", "strokeWidth": 0.9}, "encoding": {"x": {"field": "a", "type": "quantitative"}, "x2": {"field": "b"}, "y": {"field": "h", "type": "quantitative"}}}
             ]},
            {"width": 100, "height": 229, "data": {"name": "hA"},
             "mark": {"type": "rect", "stroke": "#9a9a9a", "strokeWidth": 0.7},
             "encoding": {
               "x": {"field": "g", "type": "nominal", "scale": {"domain": ["narG","narH","gudB","nirB","glnA","gltB","gltD","nirA"]}, "axis": {"title": null, "labelAngle": 90, "labelAlign": "left", "labelBaseline": "middle", "ticks": false, "domain": false, "labelPadding": 3, "labelFontSize": 11.5}},
               "y": {"field": "f", "type": "nominal", "scale": {"domain": ["Rubrobacteraceae","Mycobacteriaceae","Nocardioidaceae","Micrococcaceae","Streptomycetaceae","Geodermatophilaceae","Frankiaceae","Nocardiaceae","Pseudonocardiaceae","Nitrospiraceae","Cytophagaceae","Rhodospirillales: Acetobacteraceae","Conexibacteraceae","Chloroflexaceae","Cellulomonadaceae","Micromonosporaceae"]}, "axis": null},
               "color": {"field": "v", "type": "quantitative", "scale": {"scheme": {"name": "redyellowblue", "extent": [0.9, 0.1]}, "domain": [0, 8.7]}, "legend": null}
             }}
          ]},
          {"spacing": 0, "resolve": {"scale": {"color": "independent", "x": "independent", "y": "independent"}, "legend": {"color": "independent"}}, "vconcat": [
            {"width": 175, "height": 37, "data": {"values": []}, "mark": "point", "encoding": {}},
            {"width": 175, "height": 229, "data": {"name": "aA"},
             "encoding": {"y": {"field": "f", "type": "nominal", "scale": {"type": "band", "paddingInner": 0, "paddingOuter": 0, "domain": ["Rubrobacteraceae","Mycobacteriaceae","Nocardioidaceae","Micrococcaceae","Streptomycetaceae","Geodermatophilaceae","Frankiaceae","Nocardiaceae","Pseudonocardiaceae","Nitrospiraceae","Cytophagaceae","Rhodospirillales: Acetobacteraceae","Conexibacteraceae","Chloroflexaceae","Cellulomonadaceae","Micromonosporaceae"]}, "axis": null}},
             "layer": [
               {"transform": [{"filter": {"field": "grp", "equal": "A"}}], "mark": {"type": "rect", "fill": {"gradient": "linear", "x1": 0, "y1": 0, "x2": 1, "y2": 0, "stops": [{"offset": 0, "color": "#7d97d4"}, {"offset": 1, "color": "#ffffff"}]}}, "encoding": {"x": {"datum": 0, "type": "quantitative", "scale": {"domain": [0, 175]}, "axis": null}, "x2": {"datum": 100}}},
               {"transform": [{"filter": {"field": "grp", "oneOf": ["aP","bP","gP","dP"]}}], "mark": {"type": "rect", "fill": {"gradient": "linear", "x1": 0, "y1": 0, "x2": 1, "y2": 0, "stops": [{"offset": 0, "color": "#f0856a"}, {"offset": 1, "color": "#ffffff"}]}}, "encoding": {"x": {"datum": 0, "type": "quantitative"}, "x2": {"datum": 100}}},
               {"transform": [{"filter": {"field": "grp", "equal": "C"}}], "mark": {"type": "rect", "fill": {"gradient": "linear", "x1": 0, "y1": 0, "x2": 1, "y2": 0, "stops": [{"offset": 0, "color": "#9fc286"}, {"offset": 1, "color": "#ffffff"}]}}, "encoding": {"x": {"datum": 0, "type": "quantitative"}, "x2": {"datum": 100}}},
               {"mark": {"type": "text", "align": "left", "baseline": "middle", "fontSize": 11.5, "color": "black"}, "encoding": {"x": {"datum": 3, "type": "quantitative"}, "text": {"field": "grp"}}},
               {"mark": {"type": "text", "align": "left", "baseline": "middle", "fontSize": 11.5, "color": "black"}, "encoding": {"x": {"datum": 54, "type": "quantitative"}, "text": {"field": "f"}}},
               {"mark": {"type": "text", "text": ""}, "encoding": {"color": {"datum": 0, "type": "quantitative", "scale": {"scheme": {"name": "redyellowblue", "extent": [0.9, 0.1]}, "domain": [0, 8.7]}, "legend": {"title": "ave. log2 CPM", "orient": "right", "offset": 6, "direction": "vertical", "gradientLength": 109, "gradientThickness": 8, "gradientStrokeWidth": 0, "values": [0, 2, 4, 6, 8], "titleOrient": "left", "titleAngle": 270, "titleAnchor": "middle", "titleFontSize": 12, "titleFontWeight": "bold", "titleColor": "black", "titlePadding": 4, "labelFontSize": 11, "labelColor": "black", "labelOffset": 4, "padding": 0}}}}
             ]}
          ]}
        ]
      },
      {
        "spacing": 1,
        "resolve": {"scale": {"color": "independent", "x": "independent", "y": "independent"}, "legend": {"color": "independent"}},
        "hconcat": [
          {"spacing": 0, "resolve": {"scale": {"x": "independent", "y": "independent"}}, "vconcat": [
            {"width": 47, "height": 63, "data": {"values": [{"lab": "B"}]},
             "mark": {"type": "text", "align": "left", "baseline": "top", "fontSize": 12, "fontWeight": "bold", "color": "black"},
             "encoding": {"text": {"field": "lab"}, "x": {"datum": 0, "type": "quantitative", "scale": {"domain": [0, 47]}, "axis": null}, "y": {"datum": 7, "type": "quantitative", "scale": {"domain": [0, 63], "reverse": true}, "axis": null}}},
            {"width": 47, "height": 163,
             "data": {"values": [
               {"a":2.5,"b":3.5,"ha":0,"hb":0,"h":4},{"a":3.0,"b":4.5,"ha":4,"hb":0,"h":7},{"a":5.5,"b":6.5,"ha":0,"hb":0,"h":4},
               {"a":6.0,"b":7.5,"ha":4,"hb":0,"h":8},{"a":6.75,"b":8.5,"ha":8,"hb":0,"h":11},{"a":3.75,"b":7.625,"ha":7,"hb":11,"h":15},
               {"a":1.5,"b":5.6875,"ha":0,"hb":15,"h":22},{"a":0.5,"b":3.59375,"ha":0,"hb":22,"h":28},
               {"a":10.5,"b":11.5,"ha":0,"hb":0,"h":13},{"a":9.5,"b":11,"ha":0,"hb":13,"h":31},
               {"a":2.046875,"b":10.25,"ha":28,"hb":31,"h":38}]},
             "layer": [
               {"mark": {"type": "rule", "color": "#4d4d4d", "strokeWidth": 0.9}, "encoding": {"x": {"field": "ha", "type": "quantitative", "scale": {"domain": [0, 47], "reverse": true}, "axis": null}, "x2": {"field": "h"}, "y": {"field": "a", "type": "quantitative", "scale": {"domain": [0, 12], "reverse": true}, "axis": null}}},
               {"mark": {"type": "rule", "color": "#4d4d4d", "strokeWidth": 0.9}, "encoding": {"x": {"field": "hb", "type": "quantitative"}, "x2": {"field": "h"}, "y": {"field": "b", "type": "quantitative"}}},
               {"mark": {"type": "rule", "color": "#4d4d4d", "strokeWidth": 0.9}, "encoding": {"x": {"field": "h", "type": "quantitative"}, "y": {"field": "a", "type": "quantitative"}, "y2": {"field": "b"}}}
             ]}
          ]},
          {"spacing": 0, "resolve": {"scale": {"x": "independent", "y": "independent"}}, "vconcat": [
            {"width": 96, "height": 63,
             "data": {"values": [
               {"a":1.5,"b":2.5,"ha":0,"hb":0,"h":4},{"a":3.5,"b":4.5,"ha":0,"hb":0,"h":7},{"a":2.0,"b":4.0,"ha":4,"hb":7,"h":10},
               {"a":0.5,"b":3.0,"ha":0,"hb":10,"h":18},{"a":6.5,"b":7.5,"ha":0,"hb":0,"h":6},{"a":5.5,"b":7.0,"ha":0,"hb":6,"h":18},
               {"a":1.75,"b":6.25,"ha":18,"hb":18,"h":37}]},
             "layer": [
               {"mark": {"type": "rule", "color": "#4d4d4d", "strokeWidth": 0.9}, "encoding": {"x": {"field": "a", "type": "quantitative", "scale": {"domain": [0, 8]}, "axis": null}, "y": {"field": "ha", "type": "quantitative", "scale": {"domain": [0, 63]}, "axis": null}, "y2": {"field": "h"}}},
               {"mark": {"type": "rule", "color": "#4d4d4d", "strokeWidth": 0.9}, "encoding": {"x": {"field": "b", "type": "quantitative"}, "y": {"field": "hb", "type": "quantitative"}, "y2": {"field": "h"}}},
               {"mark": {"type": "rule", "color": "#4d4d4d", "strokeWidth": 0.9}, "encoding": {"x": {"field": "a", "type": "quantitative"}, "x2": {"field": "b"}, "y": {"field": "h", "type": "quantitative"}}}
             ]},
            {"width": 96, "height": 163, "data": {"name": "hB"},
             "mark": {"type": "rect", "stroke": "#9a9a9a", "strokeWidth": 0.7},
             "encoding": {
               "x": {"field": "g", "type": "nominal", "scale": {"domain": ["ugpB","phnC","phnE","phoABD","glpQ","glpK","glpD","pstB"]}, "axis": {"title": null, "labelAngle": 90, "labelAlign": "left", "labelBaseline": "middle", "ticks": false, "domain": false, "labelPadding": 3, "labelFontSize": 11.5}},
               "y": {"field": "f", "type": "nominal", "scale": {"domain": ["Chroococcales","Geodermatophilaceae","Nocardioidaceae","Micrococcaceae","Rubrobacteraceae","Microbacteriaceae","Streptomycetaceae","Beutenbergiaceae","Mycobacteriaceae","Listeriaceae","Rhizobiales: Bradyrhizobiaceae","Rhizobiales: Rhizobiaceae"]}, "axis": null},
               "color": {"field": "v", "type": "quantitative", "scale": {"scheme": {"name": "redyellowblue", "extent": [0.9, 0.1]}, "domain": [0, 8.2]}, "legend": null}
             }}
          ]},
          {"spacing": 0, "resolve": {"scale": {"color": "independent", "x": "independent", "y": "independent"}, "legend": {"color": "independent"}}, "vconcat": [
            {"width": 168, "height": 63, "data": {"values": []}, "mark": "point", "encoding": {}},
            {"width": 168, "height": 163, "data": {"name": "aB"},
             "encoding": {"y": {"field": "f", "type": "nominal", "scale": {"type": "band", "paddingInner": 0, "paddingOuter": 0, "domain": ["Chroococcales","Geodermatophilaceae","Nocardioidaceae","Micrococcaceae","Rubrobacteraceae","Microbacteriaceae","Streptomycetaceae","Beutenbergiaceae","Mycobacteriaceae","Listeriaceae","Rhizobiales: Bradyrhizobiaceae","Rhizobiales: Rhizobiaceae"]}, "axis": null}},
             "layer": [
               {"transform": [{"filter": {"field": "grp", "equal": "A"}}], "mark": {"type": "rect", "fill": {"gradient": "linear", "x1": 0, "y1": 0, "x2": 1, "y2": 0, "stops": [{"offset": 0, "color": "#7d97d4"}, {"offset": 1, "color": "#ffffff"}]}}, "encoding": {"x": {"datum": 2, "type": "quantitative", "scale": {"domain": [0, 168]}, "axis": null}, "x2": {"datum": 70}}},
               {"transform": [{"filter": {"field": "grp", "oneOf": ["aP","bP","gP","dP"]}}], "mark": {"type": "rect", "fill": {"gradient": "linear", "x1": 0, "y1": 0, "x2": 1, "y2": 0, "stops": [{"offset": 0, "color": "#f0856a"}, {"offset": 1, "color": "#ffffff"}]}}, "encoding": {"x": {"datum": 2, "type": "quantitative"}, "x2": {"datum": 70}}},
               {"transform": [{"filter": {"field": "grp", "equal": "C"}}], "mark": {"type": "rect", "fill": {"gradient": "linear", "x1": 0, "y1": 0, "x2": 1, "y2": 0, "stops": [{"offset": 0, "color": "#9fc286"}, {"offset": 1, "color": "#ffffff"}]}}, "encoding": {"x": {"datum": 2, "type": "quantitative"}, "x2": {"datum": 70}}},
               {"mark": {"type": "text", "align": "left", "baseline": "middle", "fontSize": 11.3, "color": "black"}, "encoding": {"x": {"datum": 5, "type": "quantitative"}, "text": {"field": "grp"}}},
               {"mark": {"type": "text", "align": "left", "baseline": "middle", "fontSize": 11.3, "color": "black"}, "encoding": {"x": {"datum": 60, "type": "quantitative"}, "text": {"field": "f"}}},
               {"mark": {"type": "text", "text": ""}, "encoding": {"color": {"datum": 0, "type": "quantitative", "scale": {"scheme": {"name": "redyellowblue", "extent": [0.9, 0.1]}, "domain": [0, 8.2]}, "legend": {"title": "ave. log2 CPM", "orient": "right", "offset": 6, "direction": "vertical", "gradientLength": 106, "gradientThickness": 8, "gradientStrokeWidth": 0, "values": [0, 2, 4, 6, 8], "titleOrient": "left", "titleAngle": 270, "titleAnchor": "middle", "titleFontSize": 12, "titleFontWeight": "bold", "titleColor": "black", "titlePadding": 4, "labelFontSize": 11, "labelColor": "black", "labelOffset": 4, "padding": 0}}}}
             ]}
          ]}
        ]
      }
    ]
  },
  {
    "spacing": 8,
    "resolve": {"scale": {"color": "independent", "x": "independent", "y": "independent"}, "legend": {"color": "independent"}},
    "hconcat": [
      {"width": 37, "height": 10, "title": "C", "data": {"values": []}, "mark": "point", "encoding": {}},
      {"spacing": 3, "resolve": {"scale": {"color": "independent", "x": "independent", "y": "independent"}, "legend": {"color": "independent"}}, "vconcat": [
        {"width": 90, "height": 274, "data": {"name": "hC1"},
         "mark": {"type": "rect", "stroke": "#9a9a9a", "strokeWidth": 0.7},
         "encoding": {
           "x": {"field": "g", "type": "nominal", "scale": {"domain": ["ACSS","FDH","coxS","coxL","coxM"]}, "axis": {"title": null, "labelAngle": 90, "labelAlign": "left", "labelBaseline": "middle", "ticks": false, "domain": false, "labelPadding": 4, "labelFontSize": 11.5, "minExtent": 36, "maxExtent": 36}},
           "y": {"field": "f", "type": "nominal", "scale": {"domain": ["Chromatiaceae","Chroococcales","Thermomonosporaceae","Burkholderiales: Burkholderiaceae","Burkholderiales: Comamonadaceae","Rubrobacteraceae","Geodermatophilaceae","Chloroflexaceae","Frankiaceae","Streptomycetaceae","Rhizobiales: Bradyrhizobiaceae","Rhizobiales: Rhizobiaceae","Rhizobiales: Methylobacteriaceae","Rhodobacterales: Rhodobacteraceae","Nocardioidaceae","Pseudonocardiaceae","Mycobacteriaceae","Nocardiaceae","Myxococcaceae"]}, "axis": null},
           "color": {"field": "v", "type": "quantitative", "scale": {"scheme": {"name": "redyellowblue", "extent": [0.9, 0.1]}, "domain": [0, 10.6]}, "legend": null}
         }},
        {"width": 90, "height": 55, "data": {"name": "dC1"},
         "mark": {"type": "circle", "size": 100, "opacity": 1},
         "encoding": {
           "x": {"field": "g", "type": "nominal", "scale": {"type": "band", "domain": ["ACSS","FDH","coxS","coxL","coxM"]}, "axis": null},
           "y": {"field": "s", "type": "ordinal", "scale": {"type": "band", "domain": [1, 2, 3]}, "axis": null},
           "color": {"field": "p", "type": "nominal", "scale": {"domain": ["Reductive pentose phosphate (Calvin-Benson)","Reductive acetyl-CoA (Wood-Ljungdahl)","Reductive citric acid (Arnon-Buchanan)","Dicarboxylate/ hydroxybutyrate/ hydroxypropionate","Hydroxypropionate bi-cycle"], "range": ["#141414","#c9b35c","#4e74c3","#9b5bb5","#d7694b"]}, "legend": null}
         }}
      ]},
      {"spacing": 3, "resolve": {"scale": {"color": "independent", "x": "independent", "y": "independent"}, "legend": {"color": "independent"}}, "vconcat": [
        {"width": 198, "height": 274, "data": {"name": "hC2"},
         "mark": {"type": "rect", "stroke": "#9a9a9a", "strokeWidth": 0.7},
         "encoding": {
           "x": {"field": "g", "type": "nominal", "scale": {"domain": ["korA","korB","icd","porA","porB","pckA'","pckA","pccB","accC","accA","accD"]}, "axis": {"title": null, "labelAngle": 90, "labelAlign": "left", "labelBaseline": "middle", "ticks": false, "domain": false, "labelPadding": 4, "labelFontSize": 11.5, "minExtent": 36, "maxExtent": 36}},
           "y": {"field": "f", "type": "nominal", "scale": {"domain": ["Chromatiaceae","Chroococcales","Thermomonosporaceae","Burkholderiales: Burkholderiaceae","Burkholderiales: Comamonadaceae","Rubrobacteraceae","Geodermatophilaceae","Chloroflexaceae","Frankiaceae","Streptomycetaceae","Rhizobiales: Bradyrhizobiaceae","Rhizobiales: Rhizobiaceae","Rhizobiales: Methylobacteriaceae","Rhodobacterales: Rhodobacteraceae","Nocardioidaceae","Pseudonocardiaceae","Mycobacteriaceae","Nocardiaceae","Myxococcaceae"]}, "axis": null},
           "color": {"field": "v", "type": "quantitative", "scale": {"scheme": {"name": "redyellowblue", "extent": [0.9, 0.1]}, "domain": [0, 10.6]}, "legend": null}
         }},
        {"width": 198, "height": 55, "data": {"name": "dC2"},
         "mark": {"type": "circle", "size": 100, "opacity": 1},
         "encoding": {
           "x": {"field": "g", "type": "nominal", "scale": {"type": "band", "domain": ["korA","korB","icd","porA","porB","pckA'","pckA","pccB","accC","accA","accD"]}, "axis": null},
           "y": {"field": "s", "type": "ordinal", "scale": {"type": "band", "domain": [1, 2, 3]}, "axis": null},
           "color": {"field": "p", "type": "nominal", "scale": {"domain": ["Reductive pentose phosphate (Calvin-Benson)","Reductive acetyl-CoA (Wood-Ljungdahl)","Reductive citric acid (Arnon-Buchanan)","Dicarboxylate/ hydroxybutyrate/ hydroxypropionate","Hydroxypropionate bi-cycle"], "range": ["#141414","#c9b35c","#4e74c3","#9b5bb5","#d7694b"]}, "legend": null}
         }}
      ]},
      {"spacing": 1, "resolve": {"scale": {"color": "independent", "x": "independent", "y": "independent"}, "legend": {"color": "independent"}}, "vconcat": [
        {"width": 36, "height": 274, "data": {"name": "hC3"},
         "mark": {"type": "rect", "stroke": "#9a9a9a", "strokeWidth": 0.7},
         "encoding": {
           "x": {"field": "g", "type": "nominal", "scale": {"domain": ["rbcL RuBisCO","rbcS RuBisCO"]}, "axis": {"title": null, "labelAngle": 90, "labelAlign": "left", "labelBaseline": "middle", "ticks": false, "domain": false, "labelPadding": 3, "labelFontSize": 10.6}},
           "y": {"field": "f", "type": "nominal", "scale": {"domain": ["Chromatiaceae","Chroococcales","Thermomonosporaceae","Burkholderiales: Burkholderiaceae","Burkholderiales: Comamonadaceae","Rubrobacteraceae","Geodermatophilaceae","Chloroflexaceae","Frankiaceae","Streptomycetaceae","Rhizobiales: Bradyrhizobiaceae","Rhizobiales: Rhizobiaceae","Rhizobiales: Methylobacteriaceae","Rhodobacterales: Rhodobacteraceae","Nocardioidaceae","Pseudonocardiaceae","Mycobacteriaceae","Nocardiaceae","Myxococcaceae"]}, "axis": null},
           "color": {"field": "v", "type": "quantitative", "scale": {"scheme": {"name": "redyellowblue", "extent": [0.9, 0.1]}, "domain": [0, 10.6]}, "legend": null}
         }},
        {"width": 36, "height": 14, "data": {"name": "dC3"},
         "mark": {"type": "circle", "size": 100, "opacity": 1},
         "encoding": {
           "x": {"field": "g", "type": "nominal", "scale": {"type": "band", "domain": ["rbcL RuBisCO","rbcS RuBisCO"]}, "axis": null},
           "y": {"field": "s", "type": "ordinal", "scale": {"type": "band", "domain": [1]}, "axis": null},
           "color": {"field": "p", "type": "nominal", "scale": {"domain": ["Reductive pentose phosphate (Calvin-Benson)","Reductive acetyl-CoA (Wood-Ljungdahl)","Reductive citric acid (Arnon-Buchanan)","Dicarboxylate/ hydroxybutyrate/ hydroxypropionate","Hydroxypropionate bi-cycle"], "range": ["#141414","#c9b35c","#4e74c3","#9b5bb5","#d7694b"]}, "legend": null}
         }}
      ]},
      {"spacing": 6, "resolve": {"scale": {"color": "independent", "x": "independent", "y": "independent"}, "legend": {"color": "independent"}}, "vconcat": [
        {"width": 260, "height": 274, "data": {"name": "aC"},
         "encoding": {"y": {"field": "f", "type": "nominal", "scale": {"type": "band", "paddingInner": 0, "paddingOuter": 0, "domain": ["Chromatiaceae","Chroococcales","Thermomonosporaceae","Burkholderiales: Burkholderiaceae","Burkholderiales: Comamonadaceae","Rubrobacteraceae","Geodermatophilaceae","Chloroflexaceae","Frankiaceae","Streptomycetaceae","Rhizobiales: Bradyrhizobiaceae","Rhizobiales: Rhizobiaceae","Rhizobiales: Methylobacteriaceae","Rhodobacterales: Rhodobacteraceae","Nocardioidaceae","Pseudonocardiaceae","Mycobacteriaceae","Nocardiaceae","Myxococcaceae"]}, "axis": null}},
         "layer": [
           {"transform": [{"filter": {"field": "grp", "equal": "A"}}], "mark": {"type": "rect", "fill": {"gradient": "linear", "x1": 0, "y1": 0, "x2": 1, "y2": 0, "stops": [{"offset": 0, "color": "#7d97d4"}, {"offset": 1, "color": "#ffffff"}]}}, "encoding": {"x": {"datum": 2, "type": "quantitative", "scale": {"domain": [0, 260]}, "axis": null}, "x2": {"datum": 72}}},
           {"transform": [{"filter": {"field": "grp", "oneOf": ["aP","bP","gP","dP"]}}], "mark": {"type": "rect", "fill": {"gradient": "linear", "x1": 0, "y1": 0, "x2": 1, "y2": 0, "stops": [{"offset": 0, "color": "#f0856a"}, {"offset": 1, "color": "#ffffff"}]}}, "encoding": {"x": {"datum": 2, "type": "quantitative"}, "x2": {"datum": 72}}},
           {"transform": [{"filter": {"field": "grp", "equal": "C"}}], "mark": {"type": "rect", "fill": {"gradient": "linear", "x1": 0, "y1": 0, "x2": 1, "y2": 0, "stops": [{"offset": 0, "color": "#9fc286"}, {"offset": 1, "color": "#ffffff"}]}}, "encoding": {"x": {"datum": 2, "type": "quantitative"}, "x2": {"datum": 72}}},
           {"mark": {"type": "text", "align": "left", "baseline": "middle", "fontSize": 11.5, "color": "black"}, "encoding": {"x": {"datum": 4, "type": "quantitative"}, "text": {"field": "grp"}}},
           {"mark": {"type": "text", "align": "left", "baseline": "middle", "fontSize": 11.5, "color": "black"}, "encoding": {"x": {"datum": 57, "type": "quantitative"}, "text": {"field": "f"}}},
           {"mark": {"type": "text", "text": ""}, "encoding": {"color": {"datum": 0, "type": "quantitative", "scale": {"scheme": {"name": "redyellowblue", "extent": [0.9, 0.1]}, "domain": [0, 10.6]}, "legend": {"title": "ave. log2 CPM", "orient": "right", "offset": 8, "direction": "vertical", "gradientLength": 108, "gradientThickness": 8, "gradientStrokeWidth": 0, "values": [0, 2, 4, 6, 8, 10], "titleOrient": "left", "titleAngle": 270, "titleAnchor": "middle", "titleFontSize": 12, "titleFontWeight": "bold", "titleColor": "black", "titlePadding": 4, "labelFontSize": 11, "labelColor": "black", "labelOffset": 4, "padding": 0}}}}
         ]},
        {"width": 309, "height": 94, "data": {"name": "pw"},
         "view": {"stroke": "#8c8c8c", "strokeWidth": 1},
         "encoding": {"y": {"field": "p", "type": "nominal", "scale": {"type": "point", "padding": 0.85, "domain": ["Reductive pentose phosphate (Calvin-Benson)","Reductive acetyl-CoA (Wood-Ljungdahl)","Reductive citric acid (Arnon-Buchanan)","Dicarboxylate/ hydroxybutyrate/ hydroxypropionate","Hydroxypropionate bi-cycle"]}, "axis": null}},
         "layer": [
           {"mark": {"type": "circle", "size": 95, "opacity": 1}, "encoding": {"x": {"datum": 12, "type": "quantitative", "scale": {"domain": [0, 309]}, "axis": null}, "color": {"field": "p", "type": "nominal", "scale": {"domain": ["Reductive pentose phosphate (Calvin-Benson)","Reductive acetyl-CoA (Wood-Ljungdahl)","Reductive citric acid (Arnon-Buchanan)","Dicarboxylate/ hydroxybutyrate/ hydroxypropionate","Hydroxypropionate bi-cycle"], "range": ["#141414","#c9b35c","#4e74c3","#9b5bb5","#d7694b"]}, "legend": null}}},
           {"mark": {"type": "text", "align": "left", "baseline": "middle", "font": "Open Sans", "fontSize": 11.5, "color": "black"}, "encoding": {"x": {"datum": 22, "type": "quantitative"}, "text": {"field": "p"}}}
         ]}
      ]}
    ]
  }
]
}
